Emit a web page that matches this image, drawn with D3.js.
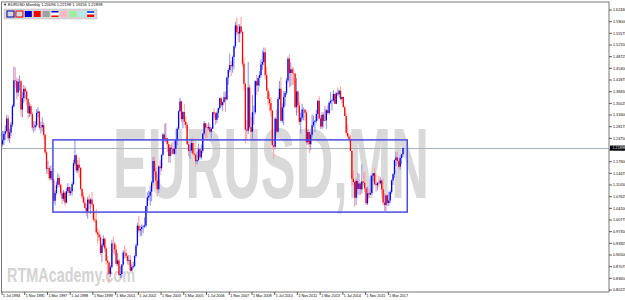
<!DOCTYPE html>
<meta charset="utf-8">
<style>
body { margin: 0; background: #fff; }
text { font-family: "Liberation Sans", Arial, sans-serif; }
</style>
<body>
<script src="https://cdn.jsdelivr.net/npm/d3@7"></script>
<script>

// EURUSD monthly, Jul 1994 .. Jan 2018 (open of a bar = previous close)
var firstOpen = 1.2300;
var closes = [
 1.2420,1.2610,1.2680,1.3060,1.2480,1.2650,1.2880,1.3420,1.4170,1.4160,1.3820,1.4140,
 1.4150,1.3320,1.3660,1.3930,1.3850,1.3620,1.3210,1.3420,1.3190,1.2790,1.2800,1.2860,
 1.3220,1.3260,1.2790,1.2800,1.2870,1.2570,1.2060,1.1580,1.1600,1.1300,1.1520,1.1250,
 1.0640,1.0870,1.1110,1.1310,1.1110,1.0870,1.0700,1.0880,1.0590,1.0920,1.1050,1.0870,
 1.0920,1.1130,1.1740,1.1980,1.1530,1.1700,1.1610,1.0990,1.0770,1.0590,1.0425,1.0335,
 1.0680,1.0560,1.0680,1.0530,1.0090,1.0070,0.9715,0.9655,0.9570,0.9110,0.9335,0.9525,
 0.9240,0.8880,0.8830,0.8495,0.8700,0.9390,0.9380,0.9210,0.8790,0.8890,0.8460,0.8490,
 0.8770,0.9120,0.9110,0.9010,0.8880,0.8900,0.8590,0.8690,0.8725,0.9020,0.9330,0.9910,
 0.9770,0.9810,0.9870,0.9890,0.9920,1.0490,1.0740,1.0790,1.0910,1.1180,1.1810,1.1500,
 1.1240,1.0980,1.1650,1.1600,1.1990,1.2590,1.2460,1.2480,1.2300,1.1960,1.2200,1.2170,
 1.2020,1.2170,1.2420,1.2760,1.3270,1.3560,1.3040,1.3250,1.2960,1.2870,1.2300,1.2100,
 1.2120,1.2340,1.2030,1.1990,1.1800,1.1840,1.2160,1.1920,1.2110,1.2620,1.2920,1.2790,
 1.2770,1.2810,1.2670,1.2760,1.3240,1.3200,1.3020,1.3230,1.3360,1.3650,1.3450,1.3540,
 1.3680,1.3620,1.4260,1.4480,1.4630,1.4590,1.4860,1.5180,1.5790,1.5600,1.5550,1.5760,
 1.5600,1.4670,1.4080,1.2730,1.2700,1.3970,1.2800,1.2670,1.3240,1.3240,1.4150,1.4030,
 1.4250,1.4330,1.4640,1.4720,1.5000,1.4330,1.3870,1.3630,1.3510,1.3290,1.2270,1.2230,
 1.3050,1.2670,1.3630,1.3930,1.2990,1.3380,1.3690,1.3810,1.4170,1.4810,1.4390,1.4500,
 1.4390,1.4380,1.3390,1.3850,1.3440,1.2960,1.3080,1.3320,1.3320,1.3230,1.2360,1.2660,
 1.2300,1.2580,1.2860,1.2960,1.2990,1.3190,1.3580,1.3060,1.2820,1.3170,1.2990,1.3010,
 1.3300,1.3220,1.3520,1.3580,1.3590,1.3780,1.3490,1.3800,1.3770,1.3870,1.3630,1.3690,
 1.3390,1.3130,1.2630,1.2530,1.2450,1.2100,1.1290,1.1190,1.0730,1.1220,1.0990,1.1150,
 1.0980,1.1210,1.1170,1.1000,1.0570,1.0860,1.0830,1.0870,1.1380,1.1450,1.1130,1.1100,
 1.1170,1.1160,1.1240,1.0980,1.0590,1.0520,1.0800,1.0580,1.0650,1.0900,1.1240,1.1420,
 1.1840,1.1910,1.1810,1.1640,1.1900,1.2010,1.2190
];
var highs = [
 1.2690,1.2700,1.2860,1.3170,1.3150,1.2760,1.2960,1.3470,1.4580,1.4560,1.4250,1.4220,
 1.4320,1.4190,1.3830,1.4040,1.4010,1.3900,1.3660,1.3530,1.3480,1.3240,1.2980,1.2990,
 1.3330,1.3390,1.3280,1.2960,1.3090,1.2960,1.2620,1.2120,1.1820,1.1660,1.1680,1.1580,
 1.1290,1.0950,1.1210,1.1450,1.1390,1.1150,1.0930,1.0960,1.0920,1.1010,1.1160,1.1070,
 1.1040,1.1190,1.1850,1.2430,1.2010,1.1830,1.1905,1.1640,1.1020,1.0890,1.0740,1.0550,
 1.0760,1.0830,1.0720,1.0900,1.0560,1.0330,1.0410,0.9850,0.9790,0.9660,0.9400,0.9630,
 0.9560,0.9320,0.9020,0.8870,0.8760,0.9500,0.9590,0.9440,0.9350,0.9110,0.8950,0.8720,
 0.8790,0.9190,0.9330,0.9220,0.9050,0.9050,0.9040,0.8800,0.8850,0.9050,0.9380,0.9990,
 1.0200,0.9910,0.9950,0.9930,1.0150,1.0500,1.0890,1.0940,1.1080,1.1230,1.1930,1.1930,
 1.1630,1.1420,1.1680,1.1830,1.2010,1.2640,1.2900,1.2930,1.2500,1.2390,1.2280,1.2330,
 1.2380,1.2400,1.2430,1.2800,1.3300,1.3667,1.3580,1.3270,1.3480,1.3110,1.2940,1.2390,
 1.2290,1.2470,1.2500,1.2170,1.2030,1.2090,1.2320,1.2170,1.2290,1.2630,1.2980,1.2930,
 1.2890,1.2950,1.2900,1.2800,1.3250,1.3370,1.3240,1.3260,1.3380,1.3680,1.3680,1.3550,
 1.3850,1.3850,1.4280,1.4530,1.4970,1.4740,1.4900,1.5200,1.5900,1.6019,1.5820,1.5830,
 1.6038,1.5630,1.4860,1.4100,1.3010,1.4720,1.4060,1.3100,1.3740,1.3440,1.4180,1.4340,
 1.4300,1.4450,1.4800,1.5060,1.5140,1.5140,1.4580,1.3960,1.3820,1.3690,1.3310,1.2440,
 1.3110,1.3330,1.3680,1.4160,1.4280,1.3500,1.3860,1.3860,1.4250,1.4870,1.4940,1.4700,
 1.4580,1.4550,1.4390,1.4250,1.3880,1.3550,1.3230,1.3490,1.3380,1.3330,1.3280,1.2740,
 1.2670,1.2640,1.3170,1.3140,1.3010,1.3310,1.3590,1.3710,1.3160,1.3240,1.3240,1.3420,
 1.3340,1.3450,1.3570,1.3830,1.3620,1.3890,1.3780,1.3830,1.3970,1.3900,1.3993,1.3700,
 1.3700,1.3440,1.3220,1.2890,1.2600,1.2570,1.2110,1.1530,1.1250,1.1290,1.1470,1.1440,
 1.1200,1.1710,1.1460,1.1500,1.1060,1.1050,1.1000,1.1380,1.1400,1.1460,1.1620,1.1430,
 1.1190,1.1370,1.1330,1.1260,1.1300,1.0870,1.0830,1.0830,1.0910,1.0950,1.1270,1.1450,
 1.1850,1.2070,1.2090,1.1880,1.1960,1.2030,1.2200
];
var lows = [
 1.2230,1.2280,1.2420,1.2650,1.2400,1.2340,1.2550,1.2810,1.3380,1.3960,1.3620,1.3700,
 1.3870,1.3120,1.3080,1.3520,1.3570,1.3450,1.3060,1.3100,1.3120,1.2700,1.2640,1.2700,
 1.2810,1.3090,1.2730,1.2620,1.2680,1.2450,1.2000,1.1420,1.1440,1.1240,1.1250,1.1180,
 1.0580,1.0510,1.0820,1.1020,1.1040,1.0800,1.0550,1.0630,1.0500,1.0560,1.0860,1.0780,
 1.0790,1.0800,1.1100,1.1660,1.1450,1.1460,1.1310,1.0950,1.0710,1.0560,1.0410,1.0190,
 1.0110,1.0400,1.0250,1.0450,1.0030,1.0000,0.9670,0.9390,0.9470,0.9050,0.8840,0.9280,
 0.9150,0.8770,0.8460,0.8228,0.8400,0.8660,0.9100,0.9050,0.8730,0.8730,0.8440,0.8380,
 0.8380,0.8720,0.8950,0.8960,0.8770,0.8740,0.8560,0.8580,0.8650,0.8700,0.8970,0.9310,
 0.9700,0.9600,0.9610,0.9690,0.9840,0.9860,1.0330,1.0650,1.0500,1.0620,1.1150,1.1400,
 1.1080,1.0770,1.0870,1.1400,1.1510,1.1960,1.2380,1.2360,1.2080,1.1760,1.1760,1.1970,
 1.2000,1.2000,1.2010,1.2270,1.2720,1.3250,1.2960,1.2770,1.2870,1.2760,1.2280,1.1950,
 1.1870,1.2050,1.1990,1.1920,1.1640,1.1710,1.1800,1.1860,1.1860,1.2040,1.2570,1.2460,
 1.2480,1.2720,1.2620,1.2480,1.2750,1.3080,1.2870,1.2920,1.3080,1.3310,1.3400,1.3270,
 1.3500,1.3260,1.3580,1.4050,1.4410,1.4300,1.4400,1.4500,1.5120,1.5500,1.5290,1.5300,
 1.5550,1.4580,1.3880,1.2330,1.2420,1.2600,1.2750,1.2460,1.2460,1.2880,1.3180,1.3750,
 1.3840,1.4010,1.4260,1.4480,1.4620,1.4210,1.3860,1.3440,1.3270,1.3110,1.2140,1.1876,
 1.2150,1.2590,1.2640,1.3610,1.2970,1.2920,1.2870,1.3430,1.3750,1.4100,1.3970,1.4000,
 1.4040,1.4050,1.3360,1.3140,1.3220,1.2860,1.2620,1.3020,1.3000,1.3000,1.2290,1.2290,
 1.2040,1.2130,1.2500,1.2800,1.2660,1.2920,1.2990,1.3030,1.2750,1.2750,1.2790,1.2980,
 1.2750,1.3170,1.3170,1.3480,1.3290,1.3540,1.3480,1.3480,1.3720,1.3670,1.3590,1.3500,
 1.3390,1.3130,1.2570,1.2500,1.2360,1.2100,1.1100,1.1090,1.0462,1.0520,1.0820,1.0820,
 1.0810,1.0850,1.1090,1.0900,1.0520,1.0520,1.0710,1.0810,1.0820,1.1220,1.1100,1.0910,
 1.0950,1.1040,1.1120,1.0850,1.0510,1.0340,1.0340,1.0490,1.0490,1.0570,1.0840,1.1110,
 1.1310,1.1660,1.1720,1.1570,1.1550,1.1720,1.1915
];

var xTickLabels = ["1 Jul 1994","1 Nov 1995","1 Mar 1997","1 Jul 1998","1 Nov 1999","1 Mar 2001",
  "1 Jul 2002","1 Nov 2003","1 Mar 2005","1 Jul 2006","1 Nov 2007","1 Mar 2009","1 Jul 2010",
  "1 Nov 2011","1 Mar 2013","1 Jul 2014","1 Nov 2015","1 Mar 2017"];
var yTickValues = [1.62430,1.59000,1.55575,1.52150,1.48725,1.45300,1.41875,1.38450,1.35025,
  1.31600,1.28175,1.24750,1.21325,1.17900,1.14475,1.11050,1.07625,1.04200,1.00775,0.97350,
  0.93925,0.90500,0.87075,0.83650,0.80225];

var headerText = "EURUSD,Monthly  1.20096 1.22198 1.19156 1.21898";
var lastPrice = 1.21898;

// drawn rectangle (bar index / price)
var boxStart = 35.5, boxEnd = 285, boxTop = 1.2430, boxBottom = 1.0310;

var W = 625, H = 300;
var plot = {left: 1.5, right: 609, top: 2, bottom: 292};

var svg = d3.select("body").append("svg")
    .attr("width", W).attr("height", H);

var x = d3.scaleLinear().domain([0, 282]).range([2.5, 403]);
var y = d3.scaleLinear().domain([0.7964, 1.6478]).range([plot.bottom, plot.top]);

// watermarks
svg.append("text")
    .attr("x", 113).attr("y", 198)
    .attr("font-size", 100).attr("font-weight", "bold")
    .attr("fill", "#d9d9d9")
    .attr("textLength", 316).attr("lengthAdjust", "spacingAndGlyphs")
    .text("EURUSD,MN");

svg.append("text")
    .attr("x", 7).attr("y", 282)
    .attr("font-size", 19.5).attr("font-weight", "bold")
    .attr("fill", "#d3d3d3")
    .attr("textLength", 128).attr("lengthAdjust", "spacingAndGlyphs")
    .text("RTMAcademy.com");

// price line
svg.append("line")
    .attr("x1", plot.left).attr("x2", plot.right)
    .attr("y1", Math.round(y(lastPrice)) + 0.5).attr("y2", Math.round(y(lastPrice)) + 0.5)
    .attr("stroke", "#a8b0bc").attr("stroke-width", 1);

// candles
var bars = closes.map(function(c, i) {
  return {i: i, o: i === 0 ? firstOpen : closes[i - 1], h: highs[i], l: lows[i], c: c};
});

var g = svg.append("g");
g.selectAll(".wick").data(bars).enter().append("line")
    .attr("x1", d => x(d.i)).attr("x2", d => x(d.i))
    .attr("y1", d => y(d.h)).attr("y2", d => y(d.l))
    .attr("stroke", d => d.c >= d.o ? "#8c8cf0" : "#ff9a9a")
    .attr("stroke-width", 1);
g.selectAll(".body").data(bars).enter().append("line")
    .attr("x1", d => x(d.i)).attr("x2", d => x(d.i))
    .attr("y1", d => y(d.o)).attr("y2", d => y(d.c))
    .attr("stroke", d => d.c >= d.o ? "#0000ee" : "#ff0000")
    .attr("stroke-width", 1.3);

// rectangle object
svg.append("rect")
    .attr("x", x(boxStart)).attr("y", y(boxTop))
    .attr("width", x(boxEnd) - x(boxStart)).attr("height", y(boxBottom) - y(boxTop))
    .attr("fill", "none").attr("stroke", "#4b4be6").attr("stroke-width", 1.5);

// frame
svg.append("rect")
    .attr("x", plot.left).attr("y", plot.top)
    .attr("width", plot.right - plot.left).attr("height", plot.bottom - plot.top)
    .attr("fill", "none").attr("stroke", "#777").attr("stroke-width", 1);

// right axis
var yAxis = svg.append("g");
yAxis.selectAll("line").data(yTickValues).enter().append("line")
    .attr("x1", plot.right).attr("x2", plot.right + 3)
    .attr("y1", d => y(d)).attr("y2", d => y(d))
    .attr("stroke", "#333").attr("stroke-width", 0.8);
yAxis.selectAll("text").data(yTickValues).enter().append("text")
    .attr("x", plot.right + 4).attr("y", d => y(d) + 1.3)
    .attr("font-size", 3.7).attr("fill", "#000")
    .text(d => d.toFixed(5));

// current price label
svg.append("rect")
    .attr("x", plot.right + 1).attr("y", y(lastPrice) - 2.5)
    .attr("width", 15).attr("height", 5).attr("fill", "#000");
svg.append("text")
    .attr("x", plot.right + 3.5).attr("y", y(lastPrice) + 1.3)
    .attr("font-size", 3.7).attr("fill", "#fff")
    .text(lastPrice.toFixed(5));

// bottom axis
var xAxis = svg.append("g");
xAxis.selectAll("line").data(xTickLabels).enter().append("line")
    .attr("x1", (d, k) => x(k * 16) - 0.5).attr("x2", (d, k) => x(k * 16) - 0.5)
    .attr("y1", plot.bottom).attr("y2", plot.bottom + 3)
    .attr("stroke", "#333").attr("stroke-width", 0.8);
xAxis.selectAll("text").data(xTickLabels).enter().append("text")
    .attr("x", (d, k) => x(k * 16) + 0.5).attr("y", 296.5)
    .attr("font-size", 3.7).attr("fill", "#000")
    .text(d => d);

// header
svg.append("text")
    .attr("x", 3).attr("y", 6)
    .attr("font-size", 4).attr("fill", "#000")
    .text("\u25BC " + headerText);

// colour buttons panel
var swatches = [
  {fill: "#d8d8d8", stroke: "#0000aa"}, {fill: "#d8d8d8", stroke: "#ee0000"},
  {fill: "#0000cc"}, {fill: "#ff0000"}, {fill: "#a0a0a0"},
  {split: true}, {fill: "#ffb6c1"}, {fill: "#98f098"}, {fill: "#b0eaea"}, {split2: true}
];
svg.append("rect").attr("x", 4).attr("y", 9).attr("width", 93).attr("height", 10)
    .attr("fill", "#d6d6d6").attr("stroke", "#bbb").attr("stroke-width", 0.5);
var sw = svg.append("g").selectAll("g").data(swatches).enter().append("g")
    .attr("transform", (d, k) => "translate(" + (7 + k * 8.9) + ",11)");
sw.filter(d => !d.split && !d.split2).append("rect")
    .attr("width", 7).attr("height", 6)
    .attr("fill", d => d.fill)
    .attr("stroke", d => d.stroke || "none").attr("stroke-width", 1);
sw.filter(d => d.split).each(function() {
  var s = d3.select(this);
  s.append("rect").attr("width", 7).attr("height", 6).attr("fill", "#fff");
  s.append("rect").attr("width", 7).attr("height", 1.5).attr("fill", "#0000dd");
  s.append("rect").attr("y", 4.5).attr("width", 7).attr("height", 1.5).attr("fill", "#ee0000");
});
sw.filter(d => d.split2).each(function() {
  var s = d3.select(this);
  s.append("rect").attr("width", 7).attr("height", 6).attr("fill", "#fff");
  s.append("rect").attr("width", 7).attr("height", 2).attr("fill", "#2060e0");
  s.append("rect").attr("y", 3.5).attr("width", 7).attr("height", 2.5).attr("fill", "#ee0000");
});

</script>
</body>
